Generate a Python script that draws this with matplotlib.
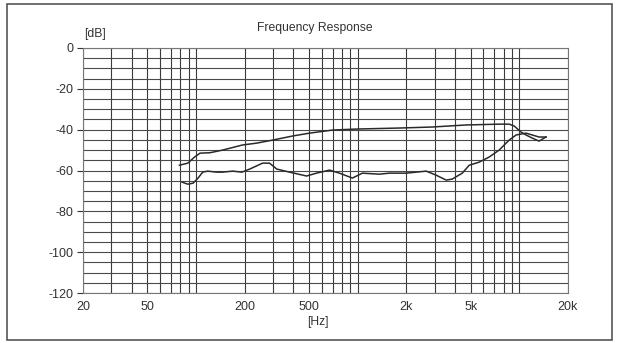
import numpy as np
import matplotlib
matplotlib.use('Agg')
import matplotlib.pyplot as plt
from matplotlib.patches import Rectangle
from matplotlib.ticker import FixedLocator, NullFormatter

plt.rcParams['font.family'] = ['Liberation Sans', 'DejaVu Sans']

# =============================================================================
# Data
# =============================================================================
# Upper curve
f_upper = [79, 89, 98, 106, 122, 146, 194, 237, 298, 396, 504, 698, 982,
           1811, 2894, 4692, 7500, 8650, 9290, 10260, 11000, 12000, 13240, 14620]
db_upper = [-57.4, -56.4, -53.4, -51.5, -51.3, -50.0, -47.5, -46.6, -45.1,
            -43.1, -41.7, -40.2, -39.7, -39.2, -38.7, -37.7, -37.3, -37.3,
            -38.2, -41.2, -42.6, -44.1, -45.6, -43.6]

# Lower curve
f_lower = [82, 89, 96, 103, 110, 118, 134, 146, 169, 192, 215, 258, 285, 316,
           379, 483, 556, 670, 771, 928, 1070, 1362, 1570, 2000, 2655, 3060,
           3530, 3845, 4435, 4900, 5650, 6510, 7500, 8650, 9550, 11000, 13240,
           14620]
db_lower = [-65.7, -66.7, -66.2, -63.7, -60.8, -60.3, -60.8, -60.8, -60.3,
            -60.8, -59.3, -56.4, -56.4, -59.3, -60.8, -62.7, -61.3, -59.8,
            -61.3, -63.7, -61.3, -61.8, -61.3, -61.3, -60.3, -62.3, -64.7,
            -64.2, -61.3, -57.4, -55.9, -53.4, -50.0, -45.1, -42.6, -41.7,
            -43.6, -43.6]

x_ticks = [20, 50, 200, 500, 2000, 5000, 20000]
x_labels = ['20', '50', '200', '500', '2k', '5k', '20k']
y_ticks = [0, -20, -40, -60, -80, -100, -120]

# =============================================================================
# Plot
# =============================================================================
fig = plt.figure(figsize=(6.19, 3.43), dpi=100)
ax = fig.add_axes([83/619, 1 - 293/343, (568 - 83)/619, (293 - 48)/343])

# grid: every log step, every 5 dB
vlines = [m * 10**e for e in range(1, 5) for m in range(1, 10)]
vlines = [v for v in vlines if 20 <= v <= 20000]
for v in vlines:
    ax.axvline(v, color='#3a3a3a', lw=0.8, zorder=1)
for h in range(0, -125, -5):
    ax.axhline(h, color='#4a4a4a', lw=0.8, zorder=1)

ax.plot(f_upper, db_upper, color='#2a2a2a', lw=1.1, zorder=3)
ax.plot(f_lower, db_lower, color='#2a2a2a', lw=1.1, zorder=3)

ax.set_xscale('log')
ax.set_xlim(20, 20000)
ax.set_ylim(-120, 0)
ax.xaxis.set_major_locator(FixedLocator(x_ticks))
ax.xaxis.set_minor_locator(FixedLocator([]))
ax.xaxis.set_minor_formatter(NullFormatter())
ax.set_xticks(x_ticks)
ax.set_xticklabels(x_labels)
ax.set_yticks(y_ticks)
ax.set_yticklabels([str(t) for t in y_ticks])
ax.tick_params(axis='both', labelsize=9, colors='#333333', length=4, width=0.8)
ax.tick_params(axis='x', length=0, pad=6)
ax.tick_params(axis='y', pad=3)
for s in ax.spines.values():
    s.set_color('#777777')
    s.set_linewidth(0.8)

fig.text(315/619, 1 - 28/343, 'Frequency Response', ha='center', va='center',
         fontsize=8.7, color='#333333')
fig.text(95/619, 1 - 34/343, '[dB]', ha='center', va='center',
         fontsize=8.7, color='#333333')
fig.text(318/619, 1 - 322/343, '[Hz]', ha='center', va='center',
         fontsize=8.7, color='#333333')

# outer frame
fig.patches.append(Rectangle((7/619, 3/343), 605/619, 336/343,
                             transform=fig.transFigure, fill=False,
                             edgecolor='#555555', lw=1.2))

plt.savefig('out.png', dpi=100)
